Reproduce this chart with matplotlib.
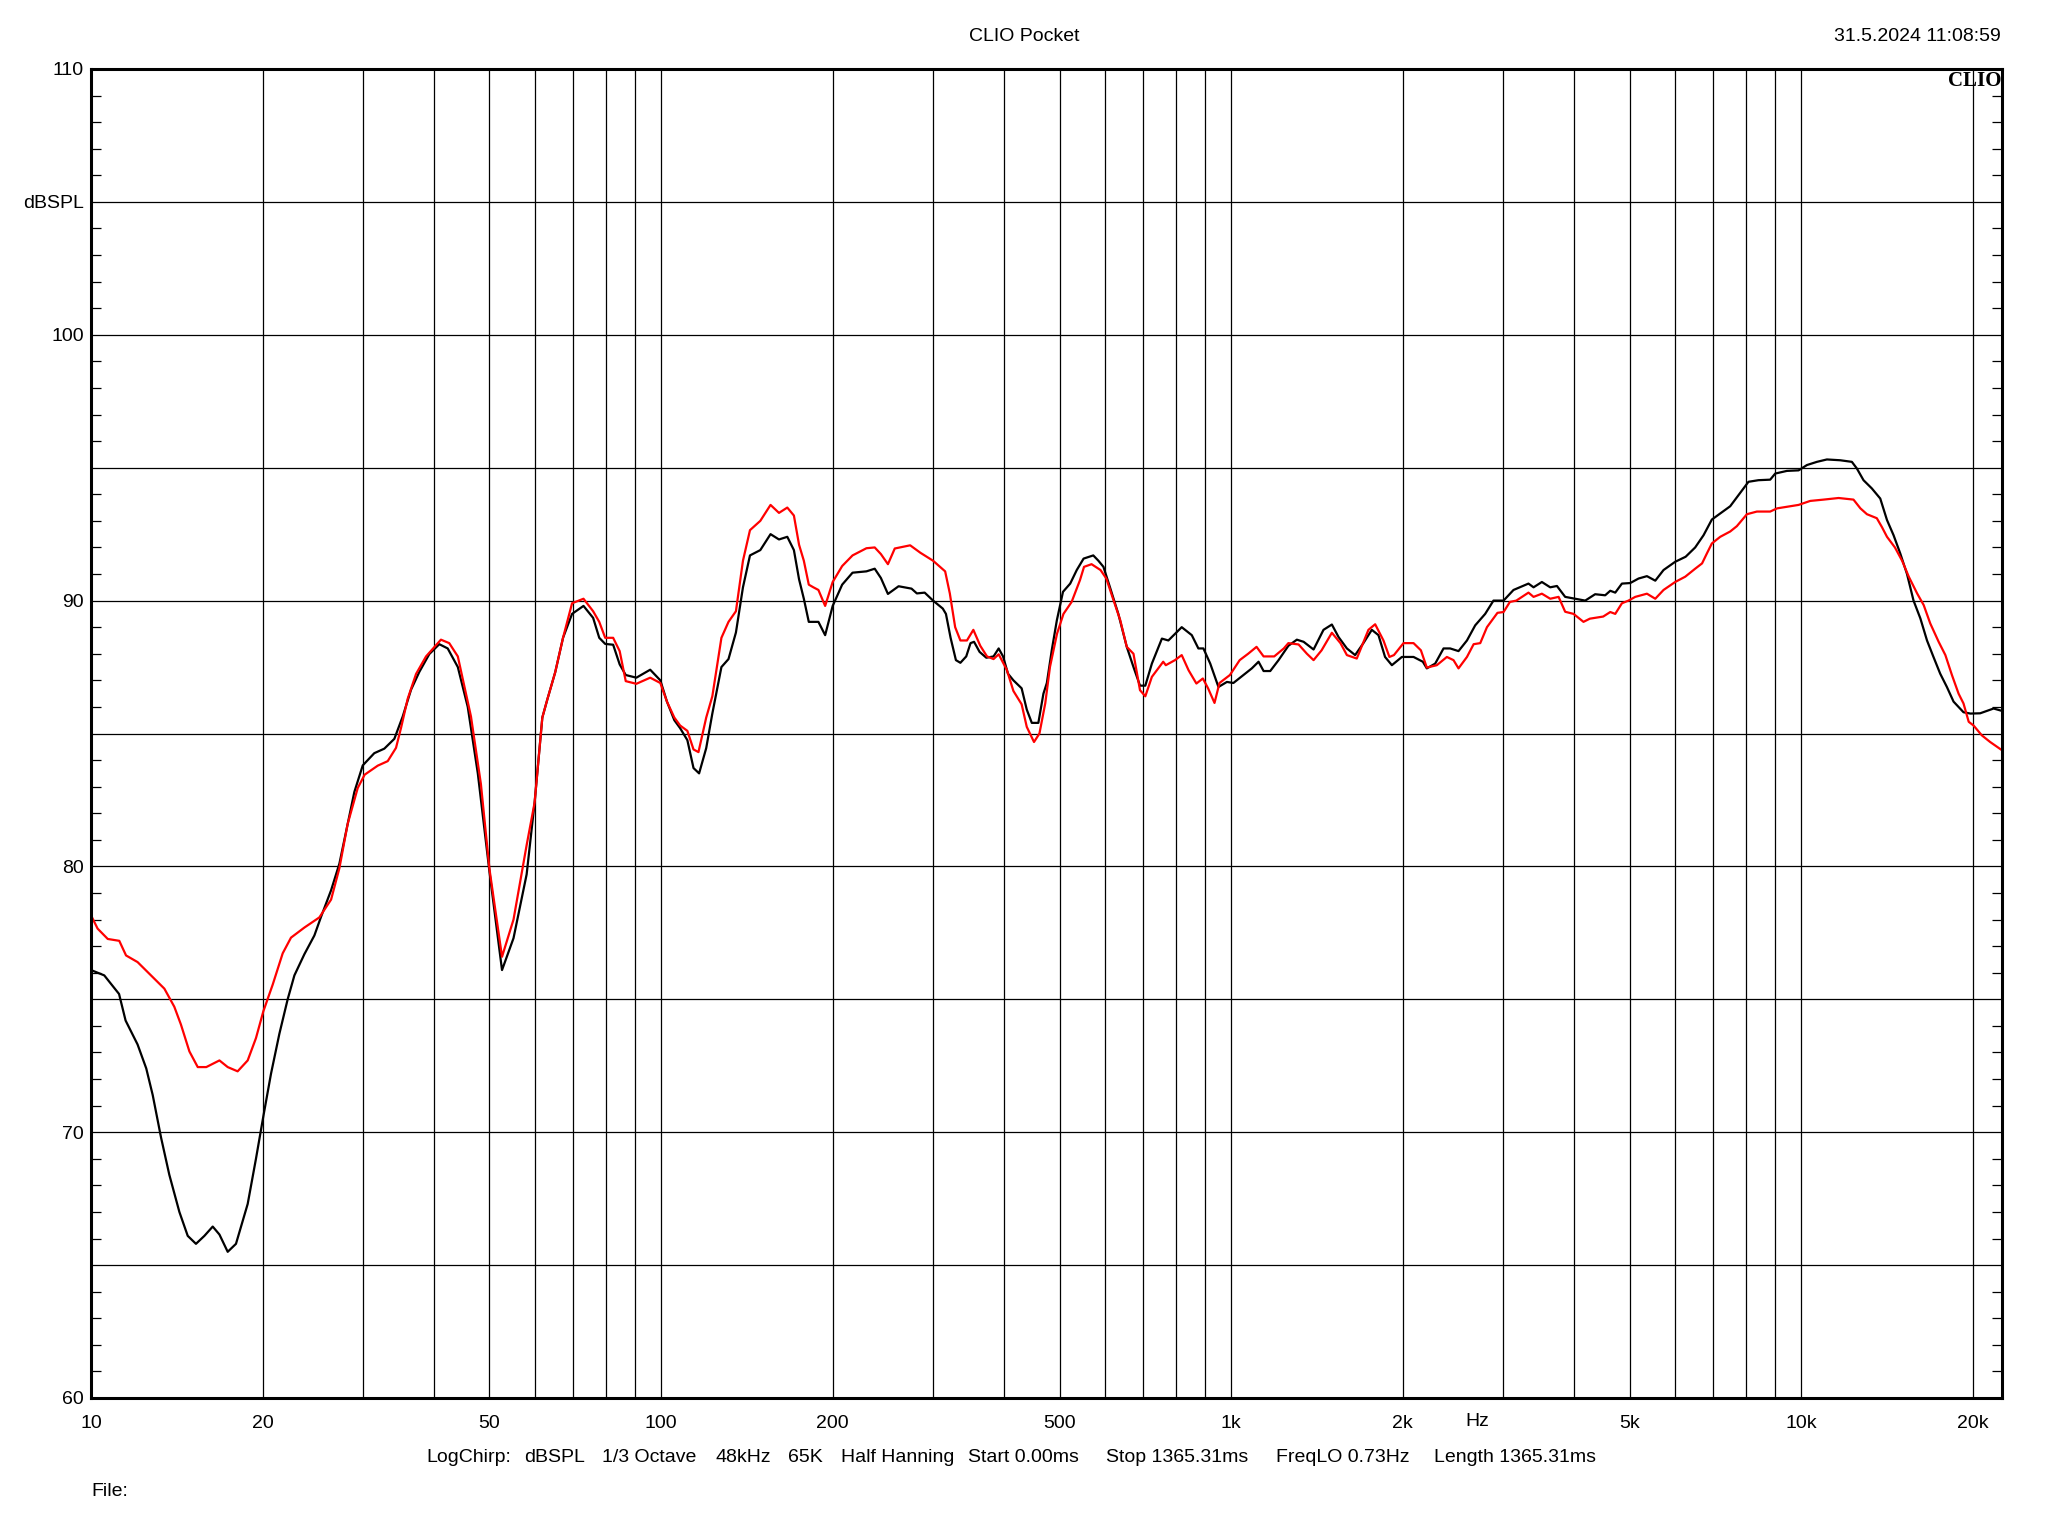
import matplotlib
matplotlib.use("Agg")
import matplotlib.pyplot as plt
import matplotlib.transforms as mtransforms

plt.rcParams['font.family'] = ['Liberation Sans', 'DejaVu Sans']

# ---------------- data ----------------
black_freq = [10, 10.55, 11.2, 11.5, 12.07, 12.5, 12.83, 13.27, 13.72, 14.29, 14.78, 15.28, 15.81,
              16.35, 16.8, 17.37, 17.96, 18.83, 19.47, 20.06, 20.69, 21.4, 22.13, 22.74, 23.68,
              24.65, 25.32, 26.37, 27.27, 28.2, 28.97, 29.97, 31.4, 32.7, 34.05, 35.22, 36.43,
              37.67, 39.22, 40.83, 42.24, 44.0, 45.8, 47.7, 50.0, 52.6, 55.1, 58.1, 60.0, 61.9,
              63.2, 65.2, 67.3, 69.8, 73.1, 76.0, 77.9, 79.8, 82.4, 84.6, 86.7, 90.5, 95.7, 99.7,
              102.4, 105.5, 108, 111.2, 114, 116.6, 120, 123, 127.6, 131.3, 135.3, 139.2, 143.2,
              149.3, 155.6, 161, 166.5, 171, 174.6, 178, 181.6, 185, 188.8, 194, 200, 207.8,
              216.7, 229.2, 237, 243, 250, 261, 275, 281, 290, 300, 312, 316, 322, 329, 335, 343,
              349, 354, 362, 372, 383, 391, 398, 406, 415, 429, 438, 447, 459, 468.5, 475, 484.6,
              494.6, 507, 522, 536, 551, 573, 585, 597, 613, 634, 656, 674, 692, 707, 726, 756,
              776, 819, 853, 876, 894, 919, 950, 983, 1009, 1051, 1087, 1117, 1140, 1171, 1211,
              1260, 1304, 1340, 1395, 1452, 1502, 1543, 1596, 1650, 1706, 1765, 1813, 1862, 1914,
              1993, 2089, 2169, 2204, 2280, 2358, 2422, 2505, 2592, 2680, 2790, 2885, 3005, 3128,
              3323, 3392, 3508, 3628, 3728, 3854, 4014, 4179, 4350, 4530, 4624, 4718, 4847, 5012,
              5183, 5362, 5546, 5734, 6010, 6270, 6516, 6740, 6970, 7210, 7506, 7763, 8081, 8414,
              8822, 9003, 9440, 9893, 10233, 10654, 11093, 11705, 12270, 12520, 12860, 13300,
              13760, 14140, 14520, 14920, 15330, 15740, 16180, 16620, 17060, 17530, 18010, 18500,
              19260, 19800, 20600, 21750, 22500]
black_db = [76.1, 75.9, 75.2, 74.2, 73.3, 72.4, 71.4, 69.8, 68.4, 67.0, 66.1, 65.8, 66.1,
            66.45, 66.15, 65.5, 65.8, 67.3, 69.0, 70.6, 72.2, 73.7, 75.0, 75.9, 76.7,
            77.4, 78.1, 79.1, 80.1, 81.6, 82.8, 83.8, 84.26, 84.43, 84.8, 85.64, 86.65,
            87.32, 87.99, 88.36, 88.2, 87.5, 86.0, 83.5, 79.8, 76.1, 77.3, 79.7, 82.4, 85.6,
            86.3, 87.3, 88.6, 89.5, 89.8, 89.35, 88.6, 88.37, 88.34, 87.6, 87.2, 87.1, 87.4, 87.0,
            86.2, 85.5, 85.2, 84.75, 83.7, 83.5, 84.45, 85.75, 87.5, 87.8, 88.8, 90.5, 91.7,
            91.9, 92.5, 92.3, 92.4, 91.9, 90.8, 90.07, 89.2, 89.2, 89.2, 88.7, 89.8, 90.6,
            91.05, 91.1, 91.2, 90.85, 90.25, 90.54, 90.45, 90.27, 90.3, 90.0, 89.7, 89.5, 88.6,
            87.76, 87.66, 87.9, 88.4, 88.45, 88.07, 87.85, 87.9, 88.2, 87.9, 87.25, 87.0, 86.7,
            85.9, 85.4, 85.4, 86.5, 86.9, 88.14, 89.26, 90.33, 90.64, 91.15, 91.58, 91.7, 91.5,
            91.27, 90.5, 89.5, 88.26, 87.5, 86.8, 86.8, 87.63, 88.57, 88.5, 89.0, 88.7, 88.2,
            88.2, 87.63, 86.75, 86.94, 86.9, 87.2, 87.45, 87.7, 87.35, 87.35, 87.76, 88.3,
            88.53, 88.45, 88.16, 88.9, 89.1, 88.63, 88.2, 87.95, 88.4, 88.9, 88.7, 87.88, 87.57,
            87.88, 87.88, 87.7, 87.45, 87.63, 88.2, 88.2, 88.1, 88.5, 89.07, 89.5, 90.0, 90.0,
            90.4, 90.64, 90.5, 90.7, 90.5, 90.55, 90.14, 90.07, 90.0, 90.24, 90.2, 90.37, 90.3,
            90.64, 90.66, 90.83, 90.92, 90.75, 91.15, 91.46, 91.65, 92.0, 92.46, 93.05, 93.28,
            93.55, 93.97, 94.47, 94.53, 94.55, 94.78, 94.88, 94.9, 95.1, 95.22, 95.31, 95.28,
            95.22, 94.97, 94.53, 94.22, 93.84, 93.03, 92.46, 91.77, 91.0, 90.0, 89.33, 88.5,
            87.88, 87.25, 86.75, 86.2, 85.8, 85.75, 85.76, 85.94, 85.85]

red_freq = [10, 10.27, 10.7, 11.21, 11.52, 12.07, 12.74, 13.45, 14.0, 14.38, 14.88, 15.39, 15.93,
            16.8, 17.37, 18.08, 18.83, 19.47, 20.06, 20.83, 21.69, 22.43, 23.68, 25.15, 26.37,
            27.27, 28.2, 29.37, 30.2, 31.84, 33.15, 34.28, 34.99, 35.94, 37.17, 38.7, 41.1, 42.5,
            44.0, 46.4, 48.3, 50.0, 52.6, 55.1, 58.1, 60.0, 61.9, 63.2, 65.2, 67.3, 69.8, 73.1,
            76.0, 77.9, 79.8, 82.4, 84.6, 86.7, 90.5, 95.7, 99.7, 102.4, 105.5, 108, 111.2, 114,
            116.3, 120, 123, 127.6, 131.3, 135.3, 139.2, 143.2, 149.3, 155.6, 161, 166.5, 171,
            174.6, 178, 181.6, 185, 188.8, 194, 200, 207.8, 216.7, 229.2, 237, 243, 250, 257,
            273.5, 285, 300, 315, 321, 328, 335, 344, 353, 363, 373, 383, 391, 404, 415, 429, 438,
            451, 461, 472, 481, 495, 508, 525, 543, 552, 569, 590, 604, 619, 639, 656, 674, 692,
            707, 726, 760, 768, 797, 819, 842, 869, 892, 911, 935, 954, 995, 1035, 1071, 1108,
            1140, 1190, 1237, 1260, 1313, 1358, 1395, 1441, 1502, 1555, 1596, 1661, 1741, 1789,
            1850, 1895, 1930, 2006, 2089, 2152, 2204, 2295, 2390, 2455, 2505, 2592, 2663, 2735,
            2810, 2932, 3005, 3083, 3164, 3323, 3392, 3508, 3628, 3753, 3854, 3987, 4150, 4258,
            4494, 4624, 4718, 4847, 4977, 5115, 5362, 5546, 5734, 6010, 6260, 6516, 6700, 6830,
            6970, 7210, 7506, 7710, 8030, 8360, 8822, 9070, 9580, 9893, 10370, 10950, 11630,
            12350, 12700, 13040, 13570, 13850, 14140, 14600, 15030, 15440, 15970, 16400, 16840,
            17420, 17900, 18380, 18880, 19260, 19670, 20060, 20740, 21450, 22500]
red_db = [78.16, 77.66, 77.27, 77.2, 76.65, 76.4, 75.9, 75.4, 74.72, 74.05, 73.04, 72.45, 72.45,
          72.7, 72.45, 72.29, 72.7, 73.54, 74.55, 75.55, 76.73, 77.32, 77.7, 78.08, 78.75,
          79.93, 81.6, 82.95, 83.45, 83.79, 83.96, 84.46, 85.22, 86.31, 87.24, 87.9, 88.53, 88.4,
          87.9, 85.64, 83.1, 79.9, 76.6, 78.0, 80.8, 82.4, 85.6, 86.3, 87.3, 88.6, 89.9, 90.07,
          89.6, 89.2, 88.6, 88.6, 88.1, 86.97, 86.87, 87.1, 86.9, 86.2, 85.6, 85.3, 85.1, 84.4,
          84.3, 85.6, 86.4, 88.6, 89.2, 89.6, 91.5, 92.65, 93.0, 93.6, 93.3, 93.5, 93.2,
          92.1, 91.5, 90.6, 90.5, 90.4, 89.8, 90.7, 91.3, 91.7, 91.97, 92.0, 91.75, 91.37, 91.96,
          92.08, 91.8, 91.5, 91.1, 90.27, 89.0, 88.5, 88.5, 88.9, 88.3, 87.9, 87.8, 87.98, 87.4,
          86.6, 86.1, 85.25, 84.68, 85.0, 86.14, 87.5, 88.76, 89.5, 89.95, 90.77, 91.27, 91.37,
          91.15, 90.83, 90.14, 89.26, 88.26, 88.0, 86.63, 86.4, 87.13, 87.7, 87.57, 87.76, 87.95,
          87.38, 86.88, 87.07, 86.7, 86.15, 86.9, 87.2, 87.76, 88.0, 88.26, 87.9, 87.9, 88.2,
          88.4, 88.35, 88.0, 87.76, 88.13, 88.79, 88.4, 87.95, 87.82, 88.9, 89.11, 88.5, 87.88,
          87.95, 88.4, 88.4, 88.13, 87.48, 87.57, 87.88, 87.76, 87.45, 87.88, 88.36, 88.4, 89.0,
          89.54, 89.57, 89.95, 90.0, 90.3, 90.14, 90.26, 90.07, 90.14, 89.58, 89.5, 89.2, 89.32,
          89.4, 89.57, 89.5, 89.9, 90.0, 90.14, 90.26, 90.07, 90.4, 90.7, 90.9, 91.2, 91.4,
          91.77, 92.15, 92.4, 92.6, 92.8, 93.25, 93.35, 93.35, 93.47, 93.55, 93.6, 93.75, 93.8,
          93.86, 93.8, 93.47, 93.25, 93.1, 92.77, 92.4, 92.0, 91.5, 90.9, 90.27, 89.83, 89.14,
          88.45, 87.95, 87.2, 86.5, 86.13, 85.44, 85.3, 84.93, 84.68, 84.37]

x_major = [10, 20, 50, 100, 200, 500, 1000, 2000, 5000, 10000, 20000]
x_major_labels = ['10', '20', '50', '100', '200', '500', '1k', '2k', '5k', '10k', '20k']
x_minor = [30, 40, 60, 70, 80, 90, 300, 400, 600, 700, 800, 900,
           3000, 4000, 6000, 7000, 8000, 9000]
y_major = [60, 65, 70, 75, 80, 85, 90, 95, 100, 105, 110]
y_major_labels = ['60', '', '70', '', '80', '', '90', '', '100', 'dBSPL', '110']
y_minor = [v for v in range(60, 111) if v % 5 != 0]

info_texts = ['LogChirp:', 'dBSPL', '1/3 Octave', '48kHz', '65K', 'Half Hanning',
              'Start 0.00ms', 'Stop 1365.31ms', 'FreqLO 0.73Hz', 'Length 1365.31ms']
info_x_px = [426, 524, 602, 716, 788, 841, 968, 1106, 1276, 1434]

# ---------------- figure ----------------
W, H = 2048, 1536
FS = 14
fig = plt.figure(figsize=(W / 100, H / 100), dpi=100)
left, right, top, bottom = 91, 2002, 69, 1398
ax = fig.add_axes([left / W, (H - bottom) / H, (right - left) / W, (bottom - top) / H])

ax.plot(black_freq, black_db, color='#000000', lw=1.6, zorder=3)
ax.plot(red_freq, red_db, color='#ff0000', lw=1.6, zorder=4)

ax.set_xscale('log')
ax.set_xlim(10, 22500)
ax.set_ylim(60, 110)

ax.set_xticks(x_major)
ax.set_xticklabels(x_major_labels)
ax.set_xticks(x_minor, minor=True)
ax.xaxis.set_minor_formatter(matplotlib.ticker.NullFormatter())
ax.set_yticks(y_major)
ax.set_yticklabels(y_major_labels)
ax.set_yticks(y_minor, minor=True)

ax.grid(True, which='major', axis='both', color='black', lw=0.9)
ax.grid(True, which='minor', axis='x', color='black', lw=0.9)

ax.tick_params(axis='x', which='both', length=0, pad=12, labelsize=FS)
ax.tick_params(axis='y', which='major', length=0, pad=5, labelsize=FS)
ax.tick_params(axis='y', which='minor', direction='in', length=7, width=0.9,
               left=True, right=True)
for s in ax.spines.values():
    s.set_linewidth(2.2)
    s.set_zorder(5)

# Hz label along the x axis
trans = mtransforms.blended_transform_factory(ax.transData, fig.transFigure)
ax.text(2702, 1 - 1422 / H, 'Hz', transform=trans, ha='center', va='center', fontsize=FS)

# CLIO logo
ax.text(0.9995, 0.9985, 'CLIO', transform=ax.transAxes, ha='right', va='top',
        fontsize=15, fontweight='bold', family=['Liberation Serif', 'DejaVu Serif'], zorder=6)

# header
fig.text(1024 / W, 1 - 36.5 / H, 'CLIO Pocket', ha='center', va='center', fontsize=FS)
fig.text(2001 / W, 1 - 36.5 / H, '31.5.2024 11:08:59', ha='right', va='center', fontsize=FS)

# footer
for t, xp in zip(info_texts, info_x_px):
    fig.text(xp / W, 1 - 1458 / H, t, ha='left', va='center', fontsize=FS)
fig.text(91 / W, 1 - 1492 / H, 'File:', ha='left', va='center', fontsize=FS)

fig.savefig('out.png', dpi=100, facecolor='white')
